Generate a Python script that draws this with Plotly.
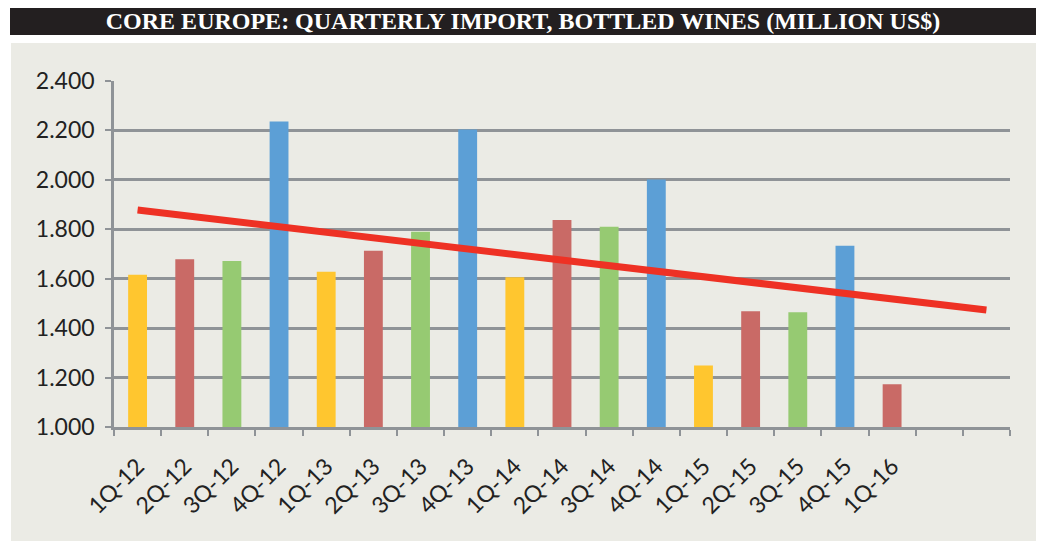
import plotly.graph_objects as go

categories = ["1Q-12", "2Q-12", "3Q-12", "4Q-12", "1Q-13", "2Q-13", "3Q-13", "4Q-13",
              "1Q-14", "2Q-14", "3Q-14", "4Q-14", "1Q-15", "2Q-15", "3Q-15", "4Q-15", "1Q-16"]
extra_slots = [" ", "  "]
values = [1616, 1679, 1672, 2236, 1628, 1713, 1790, 2204,
          1606, 1838, 1810, 2001, 1249, 1468, 1464, 1733, 1173]
YEL, RED, GRN, BLU = "#FFC62F", "#C96A66", "#96CA72", "#5C9FD6"
bar_colors = [YEL, RED, GRN, BLU, YEL, RED, GRN, BLU,
              YEL, RED, GRN, BLU, YEL, RED, GRN, BLU, RED]
trend_x = ["1Q-12", "  "]
trend_values = [1878, 1473]

all_cats = categories + extra_slots

# page body has an 8px margin; work in page pixels and convert
OFF = 8
W, H = 1044 - OFF, 541 - OFF
L, R, T, B = 114 - OFF, 1010 - OFF, 81 - OFF, 427 - OFF
pw, ph = R - L, B - T

def px_x(x):
    return (x - OFF - L) / pw

def px_y(y):
    return (B - (y - OFF)) / ph

fig = go.Figure()
fig.add_trace(go.Bar(x=categories, y=values, marker=dict(color=bar_colors, line=dict(width=0)),
                     width=0.4, showlegend=False, hoverinfo="x+y"))
fig.add_trace(go.Scatter(x=trend_x, y=trend_values, mode="lines",
                         line=dict(color="#EE3124", width=7), showlegend=False))

grid = "#8F9397"
tickfont = dict(family="Lato, 'Open Sans', sans-serif", size=23, color="#222222")

fig.update_layout(
    width=W, height=H,
    margin=dict(l=L, r=W - R, t=T, b=H - B, pad=0),
    paper_bgcolor="#FFFFFF",
    plot_bgcolor="rgba(0,0,0,0)",
    separators=",.",
    shapes=[
        dict(type="rect", xref="paper", yref="paper", layer="below",
             x0=px_x(11), x1=px_x(1036), y0=px_y(545), y1=px_y(43),
             fillcolor="#EBEBE5", line=dict(width=0)),
        dict(type="rect", xref="paper", yref="paper", layer="below",
             x0=px_x(10), x1=px_x(1036), y0=px_y(35), y1=px_y(5),
             fillcolor="#231F20", line=dict(width=0)),
    ],
    title=dict(text="CORE EUROPE: QUARTERLY IMPORT, BOTTLED WINES (MILLION US$)",
               x=(523 - OFF) / W, xanchor="center",
               y=1 - (21 - OFF) / H, yanchor="middle", yref="container", xref="container",
               font=dict(family="'Liberation Serif', 'DejaVu Serif', serif", size=24,
                         color="#FFFFFF", weight="bold")),
    xaxis=dict(type="category", categoryorder="array", categoryarray=all_cats,
               range=[-0.5, len(all_cats) - 0.5], tickmode="array", tickvals=all_cats,
               tickson="boundaries", ticks="outside", ticklen=6, tickwidth=2, tickcolor=grid,
               showline=True, linecolor=grid, linewidth=2.5, showgrid=False,
               tickangle=-45, tickfont=tickfont, ticklabelstandoff=14, fixedrange=True),
    yaxis=dict(range=[1000, 2400], dtick=200, tick0=1000, tickformat=",",
               showgrid=True, gridcolor=grid, gridwidth=2.5, zeroline=False,
               showline=True, linecolor=grid, linewidth=2.5,
               ticks="outside", ticklen=6, tickwidth=2, tickcolor=grid,
               tickfont=tickfont, ticklabelstandoff=6, fixedrange=True),
)

fig.write_html("out.html")
